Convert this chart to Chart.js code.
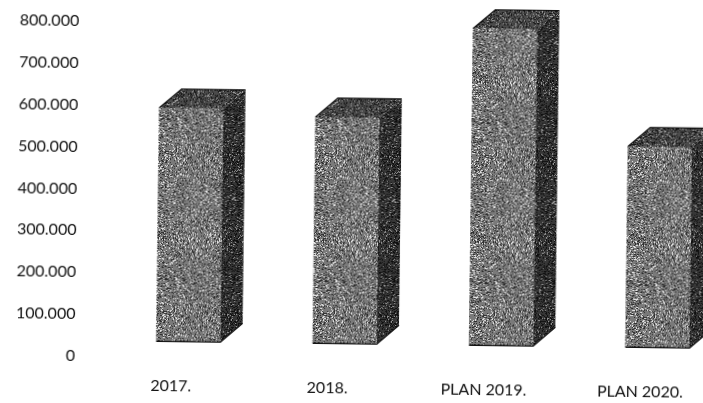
<!DOCTYPE html>
<html>
<head>
<meta charset="utf-8">
<script src="https://cdn.jsdelivr.net/npm/chart.js@4"></script>
<style>
    html, body { margin: 0; padding: 0; background: #fff; overflow: hidden; }
    /* the source is a slightly crooked scan, and the last bar runs off its right edge */
    #chart { display: block; transform: rotate(0.72deg); transform-origin: 0 0; }
</style>
</head>
<body>
<canvas id="chart" width="745" height="403"></canvas>
<script>
const categories = ["2017.", "2018.", "PLAN 2019.", "PLAN 2020."];
const topValues = [595000, 578000, 794000, 517000];
const floorValue = 37000;

const depthX = 22;
const depthY = 19;

// speckled print texture, same look as the photocopied bars
function speckle(grey, light, dark, lightShare, darkShare) {
    const size = 160;
    const tile = document.createElement("canvas");
    tile.width = size;
    tile.height = size;
    const tileCtx = tile.getContext("2d");
    const img = tileCtx.createImageData(size, size);
    for (let y = 0; y < size; y++) {
        for (let x = 0; x < size; x++) {
            const s = Math.sin(x * 12.9898 + y * 78.233) * 43758.5453;
            const r = s - Math.floor(s);
            let v = grey;
            if (r < lightShare) v = light;
            else if (r < lightShare + darkShare) v = dark;
            const i = (y * size + x) * 4;
            img.data[i] = img.data[i + 1] = img.data[i + 2] = v;
            img.data[i + 3] = 255;
        }
    }
    tileCtx.putImageData(img, 0, 0);
    return document.getElementById("chart").getContext("2d").createPattern(tile, "repeat");
}

const frontFill = speckle(122, 225, 45, 0.14, 0.2);
const topFill = speckle(75, 165, 20, 0.12, 0.25);
const sideFill = speckle(55, 150, 15, 0.08, 0.3);

// Chart.js has no 3D bars, so add the top and side faces from each bar's own position
const extrudePlugin = {
    id: "extrude",
    afterDatasetsDraw(chart) {
        const ctx = chart.ctx;
        chart.getDatasetMeta(0).data.forEach((bar) => {
            const left = bar.x - bar.width / 2;
            const right = bar.x + bar.width / 2;
            const top = bar.y;
            const bottom = bar.base;

            ctx.save();
            ctx.fillStyle = topFill;
            ctx.beginPath();
            ctx.moveTo(left, top);
            ctx.lineTo(left + depthX, top - depthY);
            ctx.lineTo(right + depthX, top - depthY);
            ctx.lineTo(right, top);
            ctx.closePath();
            ctx.fill();

            ctx.fillStyle = sideFill;
            ctx.beginPath();
            ctx.moveTo(right, top);
            ctx.lineTo(right + depthX, top - depthY);
            ctx.lineTo(right + depthX, bottom - depthY);
            ctx.lineTo(right, bottom);
            ctx.closePath();
            ctx.fill();

            ctx.strokeStyle = "#111";
            ctx.lineWidth = 1.2;
            ctx.beginPath();
            ctx.moveTo(left, top);
            ctx.lineTo(left + depthX, top - depthY);
            ctx.lineTo(right + depthX, top - depthY);
            ctx.moveTo(left, bottom);
            ctx.lineTo(right, bottom);
            ctx.lineTo(right + depthX, bottom - depthY);
            ctx.stroke();
            ctx.restore();
        });
    },
};

new Chart(document.getElementById("chart"), {
    type: "bar",
    data: {
        labels: categories,
        datasets: [
            {
                data: topValues,
                base: floorValue,
                backgroundColor: frontFill,
                barThickness: 64,
                clip: false,
            },
        ],
    },
    options: {
        responsive: false,
        animation: false,
        layout: { padding: { left: 20, right: 5, top: 20, bottom: 10 } },
        plugins: {
            legend: { display: false },
            tooltip: { enabled: false },
        },
        scales: {
            x: {
                // tickLength only spaces the labels away from the bars, no tick marks are drawn
                grid: { display: false, tickLength: 19 },
                border: { display: false },
                ticks: {
                    autoSkip: false,
                    maxRotation: 0,
                    padding: 0,
                    labelOffset: -17,
                    color: "#111",
                    font: { family: "Lato", size: 16 },
                },
            },
            y: {
                min: 0,
                max: 800000,
                grid: { display: false, tickLength: 35 },
                border: { display: false },
                ticks: {
                    stepSize: 100000,
                    padding: 0,
                    color: "#111",
                    font: { family: "Lato", size: 16 },
                    callback: (value) => value.toLocaleString("de-DE"),
                },
            },
        },
    },
    plugins: [extrudePlugin],
});
</script>
</body>
</html>
